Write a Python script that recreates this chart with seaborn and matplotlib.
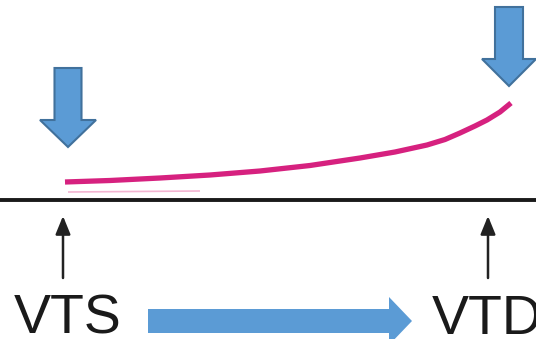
import numpy as np
import pandas as pd
import seaborn as sns
import matplotlib.pyplot as plt
from matplotlib.patches import Polygon

# curve (pixel space, y grows downward)
curve_x = [65, 110, 160, 210, 260, 310, 360, 395, 427, 445, 460, 475, 487, 500, 511]
curve_y = [182, 180.5, 178, 175, 171, 165.5, 158, 152, 145, 139.5, 133, 126, 120, 112, 103]

# labels under the baseline
labels = ["VTS", "VTD"]
label_x = [14, 432]

sns.set_style("white")
fig = plt.figure(figsize=(5.36, 3.39), dpi=100)
ax = fig.add_axes([0, 0, 1, 1])
ax.set_xlim(0, 536)
ax.set_ylim(339, 0)
ax.axis("off")

df = pd.DataFrame({"x": curve_x, "y": curve_y})
# faint ghost line under the start of the curve
ax.plot([68, 200], [192, 191], color="#f3b5d2", lw=1.2, solid_capstyle="butt")
sns.lineplot(data=df, x="x", y="y", ax=ax, color="#d6217f", lw=3.8,
             sort=False, estimator=None)
ax.lines[-1].set_solid_capstyle("butt")
ax.lines[-1].set_solid_joinstyle("round")

# baseline
ax.axhline(200, color="#1a1a1a", lw=2.8)

blue = "#5b9bd5"
edge = "#41719c"


def down_arrow(cx, top, shaft_bot, tip, sw, hw):
    pts = [(cx - sw / 2, top), (cx + sw / 2, top), (cx + sw / 2, shaft_bot),
           (cx + hw / 2, shaft_bot), (cx, tip), (cx - hw / 2, shaft_bot),
           (cx - sw / 2, shaft_bot)]
    ax.add_patch(Polygon(pts, closed=True, facecolor=blue, edgecolor=edge, lw=1.5))


down_arrow(68, 68, 120, 147, 27, 56)
down_arrow(509, 7, 59, 86, 28, 54)

# right blue arrow
pts = [(148, 309), (389, 309), (389, 297), (412, 321), (389, 345),
       (389, 333), (148, 333)]
ax.add_patch(Polygon(pts, closed=True, facecolor=blue, edgecolor="none"))

# small black up arrows
for ux in [63, 488]:
    ax.annotate("", xy=(ux, 216), xytext=(ux, 278),
                arrowprops=dict(arrowstyle="-|>,head_length=1.1,head_width=0.45",
                                color="#222222", lw=1.8, shrinkA=0, shrinkB=0))

for t, lx in zip(labels, label_x):
    ax.text(lx, 334, t, fontsize=40, color="#1a1a1a", ha="left", va="baseline",
            family="Liberation Sans")

fig.savefig("out.png", dpi=100)
